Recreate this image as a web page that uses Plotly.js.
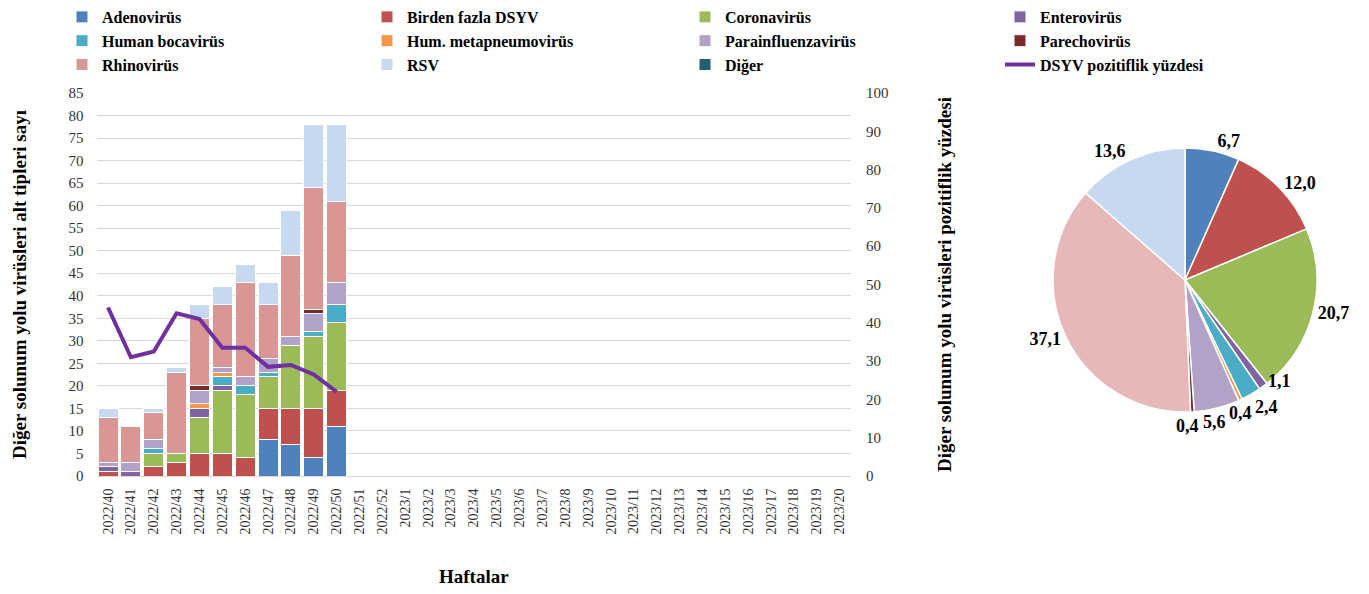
<!DOCTYPE html>
<html><head><meta charset="utf-8">
<script src="https://cdn.plot.ly/plotly-3.0.1.min.js"></script>
<style>body{margin:0;background:#fff}#chart{width:1369px;height:594px}</style>
</head><body><div id="chart"></div>
<script>
const weeks = ['2022/40','2022/41','2022/42','2022/43','2022/44','2022/45','2022/46','2022/47','2022/48','2022/49','2022/50','2022/51','2022/52',
  '2023/1','2023/2','2023/3','2023/4','2023/5','2023/6','2023/7','2023/8','2023/9','2023/10','2023/11','2023/12','2023/13','2023/14','2023/15','2023/16','2023/17','2023/18','2023/19','2023/20'];
const adenovirus      = [0,0,0,0,0,0,0,8,7,4,11];
const birdenFazla     = [1,0,2,3,5,5,4,7,8,11,8];
const coronavirus     = [0,0,3,2,8,14,14,7,14,16,15];
const enterovirus     = [1,1,0,0,2,1,0,0,0,0,0];
const bocavirus       = [0,0,1,0,0,2,2,1,0,1,4];
const metapneumovirus = [0,0,0,0,1,1,0,0,0,0,0];
const parainfluenza   = [1,2,2,0,3,1,2,3,2,4,5];
const parechovirus    = [0,0,0,0,1,0,0,0,0,1,0];
const rhinovirus      = [10,8,6,18,15,14,21,12,18,27,18];
const rsv             = [2,0,1,1,3,4,4,5,10,14,17];
const diger           = [0,0,0,0,0,0,0,0,0,0,0];
const positivity      = [44,31,32.5,42.5,41,33.5,33.5,28.5,29,26.5,22];

const seriesNames = ['Adenovirüs','Birden fazla DSYV','Coronavirüs','Enterovirüs','Human bocavirüs','Hum. metapneumovirüs','Parainfluenzavirüs','Parechovirüs','Rhinovirüs','RSV','Diğer'];
const lineName = 'DSYV pozitiflik yüzdesi';
const leftTitle = 'Diğer solunum yolu virüsleri alt tipleri sayı';
const rightTitle = 'Diğer solunum yolu virüsleri pozitiflik yüzdesi';
const xTitle = 'Haftalar';
// thin pie slices whose labels sit beside the slice edge instead of Plotly's auto outside text
const edgeLabelsRight  = ['Enterovirüs','Human bocavirüs'];
const edgeLabelsBottom = ['Hum. metapneumovirüs','Parainfluenzavirüs','Parechovirüs'];

const series = [adenovirus,birdenFazla,coronavirus,enterovirus,bocavirus,metapneumovirus,parainfluenza,parechovirus,rhinovirus,rsv,diger];
const barColors = ['#4F81BD','#C0504D','#9BBB59','#8064A2','#4BACC6','#F79646','#B3A2C7','#772C2A','#D99694','#C6D9F1','#215F73'];
const pieColors = ['#4F81BD','#C0504D','#9BBB59','#8064A2','#4BACC6','#F79646','#B3A2C7','#772C2A','#E6B9B8','#C6D9F1','#215F73'];
const legendIds = ['legend','legend2','legend3','legend4'];

const W = 1369, H = 594;
const serif = 'Liberation Serif, Times New Roman, serif';
const labelFont = {family: serif, size: 18, color: '#000', weight: 'bold'};

const traces = [];
series.forEach((vals, i) => {
  traces.push({
    type: 'bar', name: seriesNames[i],
    x: weeks.slice(0, vals.length), y: vals,
    marker: {color: barColors[i], line: {color: '#FFFFFF', width: 1}},
    legend: legendIds[i % 4],
    xaxis: 'x', yaxis: 'y', hoverinfo: 'name+y'
  });
});
traces.push({
  type: 'scatter', mode: 'lines', name: lineName,
  x: weeks.slice(0, positivity.length), y: positivity,
  line: {color: '#7030A0', width: 4},
  xaxis: 'x', yaxis: 'y2', legend: legendIds[series.length % 4]
});

// pie from totals of each series
const totals = series.map(s => s.reduce((a, b) => a + b, 0));
const grand = totals.reduce((a, b) => a + b, 0);
const pieIdx = totals.map((t, i) => i).filter(i => totals[i] > 0);
const pct = i => (totals[i] / grand * 100).toFixed(1).replace('.', ',');
const isEdge = name => edgeLabelsRight.includes(name) || edgeLabelsBottom.includes(name);
const pieDom = {x: [1053/W, 1317/W], y: [(H-412)/H, (H-148)/H]};
traces.push({
  type: 'pie', sort: false, direction: 'clockwise', rotation: 0,
  labels: pieIdx.map(i => seriesNames[i]),
  values: pieIdx.map(i => totals[i]),
  text: pieIdx.map(i => pct(i)),
  textinfo: 'text',
  textposition: pieIdx.map(i => isEdge(seriesNames[i]) ? 'none' : 'outside'),
  outsidetextfont: labelFont,
  marker: {colors: pieIdx.map(i => pieColors[i]), line: {color: '#FFFFFF', width: 1.5}},
  showlegend: false,
  domain: pieDom,
  hoverinfo: 'label+value+text'
});

// edge labels for the thin slices, placed from each slice's mid-angle
const cx = (pieDom.x[0] + pieDom.x[1]) / 2 * W;
const cy = H - (pieDom.y[0] + pieDom.y[1]) / 2 * H;
const rad = (pieDom.y[1] - pieDom.y[0]) * H / 2;
const annotations = [];
let cum = 0, rightCount = 0;
pieIdx.forEach(i => {
  const frac = totals[i] / grand;
  const mid = (cum + frac / 2) * 2 * Math.PI;
  cum += frac;
  const name = seriesNames[i];
  if (!isEdge(name)) return;
  const right = edgeLabelsRight.includes(name);
  const R = right ? rad + 4 : rad + 14;
  let px = cx + R * Math.sin(mid) + (right ? 0 : 8);
  let py = cy - R * Math.cos(mid);
  let yanchor = 'middle';
  if (right) {
    // alternate above / below the edge point so neighbouring labels do not collide
    if (rightCount % 2 === 0) { yanchor = 'bottom'; py += 4; } else { yanchor = 'top'; py -= 3; }
    rightCount++;
  }
  annotations.push({
    text: pct(i), x: px / W, y: 1 - py / H, xref: 'paper', yref: 'paper',
    xanchor: right ? 'left' : 'right', yanchor: yanchor, showarrow: false, font: labelFont
  });
});

const legendBase = {
  orientation: 'v', yanchor: 'top', xanchor: 'left', y: 1,
  bgcolor: 'rgba(0,0,0,0)', tracegroupgap: 0, traceorder: 'normal',
  font: {family: serif, size: 16, color: '#000', weight: 'bold'}
};
const legendX = [62, 367, 685, 1000];

const layout = {
  width: W, height: H,
  margin: {l: 0, r: 0, t: 0, b: 0},
  paper_bgcolor: '#FFFFFF', plot_bgcolor: '#FFFFFF',
  barmode: 'stack', bargap: 0.125,
  font: {family: serif, color: '#000'},
  annotations: annotations,
  xaxis: {
    domain: [96.6/W, 851/W], type: 'category',
    categoryorder: 'array', categoryarray: weeks, range: [-0.5, weeks.length - 0.5],
    tickangle: -90, tickfont: {family: serif, size: 14, color: '#333'},
    showgrid: false, showline: true, linecolor: '#D9D9D9', linewidth: 1,
    ticks: '', ticklabelstandoff: 6, zeroline: false,
    title: {text: xTitle, font: {family: serif, size: 19, weight: 'bold', color: '#000'}, standoff: 36}
  },
  yaxis: {
    domain: [(H-476)/H, (H-93)/H], range: [0, 85], dtick: 5, tick0: 0,
    showgrid: true, gridcolor: '#D9D9D9', gridwidth: 1, zeroline: false,
    tickfont: {family: serif, size: 15, color: '#333'}, ticks: '', ticklabelstandoff: 12,
    title: {text: leftTitle, font: {family: serif, size: 19, weight: 'bold', color: '#000'}, standoff: 36}
  },
  yaxis2: {
    overlaying: 'y', side: 'right', range: [0, 100], dtick: 10, tick0: 0,
    showgrid: false, zeroline: false,
    tickfont: {family: serif, size: 15, color: '#333'}, ticks: '', ticklabelstandoff: 14,
    title: {text: rightTitle, font: {family: serif, size: 19, weight: 'bold', color: '#000'}, standoff: 50}
  },
  showlegend: true
};
legendIds.forEach((id, k) => {
  layout[id] = Object.assign({}, legendBase, {x: legendX[k] / W});
});

Plotly.newPlot('chart', traces, layout, {displayModeBar: false, responsive: false});
</script>
</body></html>
